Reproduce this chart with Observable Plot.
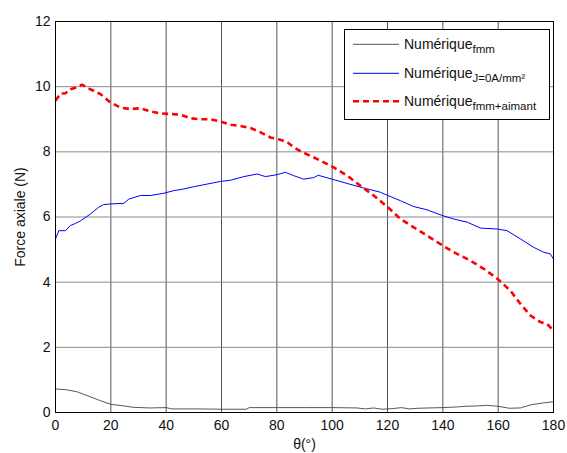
<!DOCTYPE html>
<html>
<head>
<meta charset="utf-8">
<script src="https://cdn.jsdelivr.net/npm/d3@7"></script>
<script src="https://cdn.jsdelivr.net/npm/@observablehq/plot@0.6"></script>
<style>
  html, body { margin: 0; padding: 0; background: #fff; }
  #wrap { position: relative; width: 567px; height: 453px; }
  #legend { position: absolute; left: 344px; top: 29px; }
</style>
</head>
<body>
<div id="wrap"></div>
<script>
// ---- data ----
const xTicks = [0, 20, 40, 60, 80, 100, 120, 140, 160, 180];
const yTicks = [0, 2, 4, 6, 8, 10, 12];

const fmmTheta = [0,4,8,12,16,20,24,28,34,40,42,52,60,69,70,80,90,100,109,112,115,118,122,125,128,131,135,140,145,148,152,156,160,164,168,172,176,180];
const fmmForce = [0.72,0.70,0.63,0.50,0.37,0.25,0.21,0.16,0.14,0.15,0.11,0.11,0.10,0.10,0.15,0.15,0.15,0.15,0.14,0.11,0.14,0.10,0.12,0.15,0.11,0.13,0.14,0.15,0.17,0.19,0.20,0.22,0.19,0.13,0.14,0.24,0.29,0.33];

const j0Theta = [0,1.2,3.6,5.4,7.2,9,12.6,15.6,17.4,19.9,24.7,26.5,30.7,34.3,39.2,42.8,46.4,50,54.8,59.6,63.3,68.1,72.9,75.9,80.1,83.1,86.1,89.7,93.3,95,100,105.4,111.4,117.4,120.1,124.7,129.5,134.3,140,143.9,148.8,153.6,159.8,163.2,168,172.8,176.4,178.8,180];
const j0Force = [5.33,5.58,5.58,5.74,5.8,5.88,6.09,6.3,6.38,6.4,6.42,6.55,6.66,6.66,6.73,6.81,6.86,6.93,7.01,7.09,7.13,7.24,7.32,7.24,7.3,7.37,7.27,7.16,7.21,7.28,7.16,7.03,6.89,6.76,6.66,6.5,6.32,6.22,6.04,5.94,5.84,5.66,5.63,5.58,5.33,5.07,4.92,4.87,4.71];

const magTheta = [0,1.8,3.6,5.4,7.2,9.6,12.6,16.3,19.9,23.5,27.1,30.7,34.3,37.9,41.6,45.2,48.8,52.4,56,59.6,63.3,66.9,70.5,74.1,77.7,81.3,84,86.1,88.5,95.8,100.6,105.4,110.2,115,120.1,124.7,129.5,134.3,140,145.1,150,154.8,159.8,164.4,168,171.6,175.2,177.6,180];
const magForce = [9.57,9.79,9.8,9.92,9.97,10.06,9.92,9.77,9.51,9.36,9.31,9.34,9.24,9.18,9.16,9.14,9.03,9.0,9.0,8.93,8.83,8.79,8.73,8.6,8.44,8.37,8.28,8.14,8.02,7.73,7.52,7.27,6.96,6.66,6.3,5.94,5.68,5.43,5.12,4.87,4.66,4.41,4.1,3.74,3.34,2.98,2.78,2.72,2.52];

const seriesLabels = ["fmm", "J=0A/mm²", "fmm+aimant"];
const seriesColors = ["#444444", "#0000ff", "#ff0000"];

// ---- build tables ----
const toRows = (th, v) => th.map((t, i) => ({theta: t, force: v[i]}));
const fmm = toRows(fmmTheta, fmmForce);
const j0 = toRows(j0Theta, j0Force);
const mag = toRows(magTheta, magForce);

const font = "'Liberation Sans', Arial, Helvetica, sans-serif";

const chart = Plot.plot({
  width: 567,
  height: 453,
  marginLeft: 55,
  marginRight: 14,
  marginTop: 21,
  marginBottom: 41,
  style: {fontFamily: font, fontSize: "14px", color: "#111", background: "#fff"},
  x: {domain: [0, 180]},
  y: {domain: [0, 12]},
  marks: [
    Plot.gridX(xTicks, {stroke: "#555", strokeOpacity: 1}),
    Plot.gridY(yTicks, {stroke: "#8a8a8a", strokeOpacity: 1}),
    Plot.line(fmm, {x: "theta", y: "force", stroke: seriesColors[0], strokeWidth: 0.9}),
    Plot.line(j0, {x: "theta", y: "force", stroke: seriesColors[1], strokeWidth: 1}),
    Plot.line(mag, {x: "theta", y: "force", stroke: seriesColors[2], strokeWidth: 2.6, strokeDasharray: "6,4", strokeLinecap: "butt"}),
    Plot.frame({stroke: "#000", strokeWidth: 1}),
    Plot.axisX(xTicks, {tickSize: 0, tickPadding: 8, label: "θ(°)", labelAnchor: "center", labelArrow: "none", labelOffset: 36}),
    Plot.axisY(yTicks, {tickSize: 0, tickPadding: 5, label: "Force axiale (N)", labelAnchor: "center", labelArrow: "none", labelOffset: 40})
  ]
});

const wrap = document.getElementById("wrap");
wrap.appendChild(chart);

// ---- legend ----
const lg = d3.create("svg").attr("id", "legend").attr("width", 206).attr("height", 91)
  .style("font-family", font);
lg.append("rect").attr("x", 0.5).attr("y", 0.5).attr("width", 205).attr("height", 90)
  .attr("fill", "#fff").attr("stroke", "#000");
const rowY = [15.3, 44.3, 72.3];
seriesLabels.forEach((lab, i) => {
  const y = rowY[i];
  lg.append("line").attr("x1", 9).attr("x2", 55).attr("y1", y).attr("y2", y)
    .attr("stroke", seriesColors[i])
    .attr("stroke-width", i === 2 ? 2.6 : (i === 0 ? 0.9 : 1))
    .attr("stroke-dasharray", i === 2 ? "6,4" : null);
  const t = lg.append("text").attr("x", 60).attr("y", y + 5).attr("font-size", 14).attr("fill", "#111");
  t.append("tspan").text("Numérique");
  t.append("tspan").attr("dy", 4).attr("font-size", 11.5).text(lab);
});
wrap.appendChild(lg.node());
</script>
</body>
</html>
